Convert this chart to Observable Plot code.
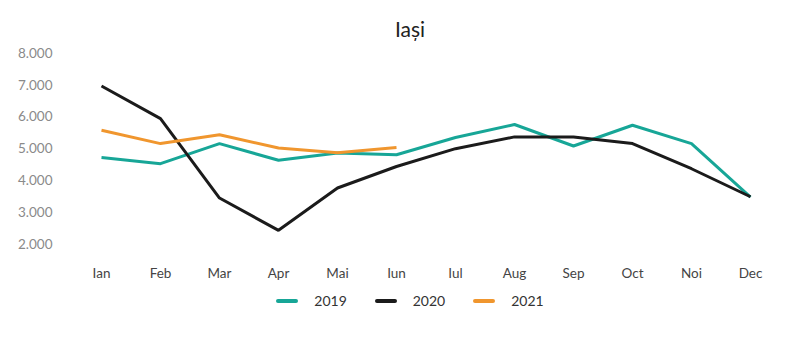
<!DOCTYPE html>
<html>
<head>
<meta charset="utf-8">
<script src="https://cdn.jsdelivr.net/npm/d3@7"></script>
<script src="https://cdn.jsdelivr.net/npm/@observablehq/plot@0.6"></script>
<style>
  body { margin: 0; background: #fff; font-family: Lato, "Noto Sans", sans-serif; }
  #wrap { position: relative; width: 800px; height: 351px; }
  #title { position: absolute; left: 0; top: 16px; width: 820px; text-align: center; font-size: 21px; color: #222; line-height: 26px; }
  #legend { position: absolute; left: 0; top: 292px; width: 820px; display: flex; justify-content: center; align-items: center; font-size: 14px; color: #333; }
  .item { display: flex; align-items: center; margin: 0 14px; }
  .sw { width: 22px; height: 4px; border-radius: 2px; margin-right: 16px; }
</style>
</head>
<body>
<div id="wrap">
  <div id="chart"></div>
  <div id="title">Iași</div>
  <div id="legend"></div>
</div>
<script>
const months = ["Ian","Feb","Mar","Apr","Mai","Iun","Iul","Aug","Sep","Oct","Noi","Dec"];
const years = ["2019","2020","2021"];
const colors = ["#17a697","#1b1b1b","#f0962e"];
const values2019 = [4730,4540,5170,4645,4875,4820,5360,5770,5095,5745,5170,3490];
const values2020 = [6980,5955,3460,2445,3775,4450,5010,5380,5380,5170,4380,3500];
const values2021 = [5590,5170,5450,5030,4885,5045];
const yTicks = [2000,3000,4000,5000,6000,7000,8000];

const series = [values2019, values2020, values2021];
const data = [];
series.forEach((vals, i) => vals.forEach((v, j) => data.push({year: years[i], month: months[j], value: v})));

const loc = d3.formatLocale({decimal: ",", thousands: ".", grouping: [3], currency: ["", ""]});
const fmt = loc.format(",");

const chart = Plot.plot({
  width: 800,
  height: 351,
  marginLeft: 68,
  marginRight: 18,
  marginTop: 53,
  marginBottom: 107,
  style: {fontFamily: "Lato, 'Noto Sans', sans-serif", fontSize: "13.5px", background: "#fff"},
  x: {type: "point", domain: months, label: null},
  y: {domain: [2000, 8000], ticks: yTicks, label: null},
  color: {domain: years, range: colors},
  marks: [
    Plot.gridY(yTicks, {stroke: "#dcdcdc", strokeOpacity: 1, strokeWidth: 1.5, x1: 68, x2: 782}),
    Plot.axisY(yTicks, {tickSize: 0, tickPadding: 16, tickFormat: fmt, color: "#8a8a8a", label: null}),
    Plot.axisX(months, {tickSize: 0, tickPadding: 24, color: "#444", label: null}),
    Plot.lineY(data, {x: "month", y: "value", stroke: "year", z: "year", strokeWidth: 3, strokeLinejoin: "miter", strokeLinecap: "butt"})
  ]
});
document.getElementById("chart").appendChild(chart);

const leg = document.getElementById("legend");
years.forEach((y, i) => {
  const it = document.createElement("div");
  it.className = "item";
  it.innerHTML = `<div class="sw" style="background:${colors[i]}"></div><span>${y}</span>`;
  leg.appendChild(it);
});
</script>
</body>
</html>
